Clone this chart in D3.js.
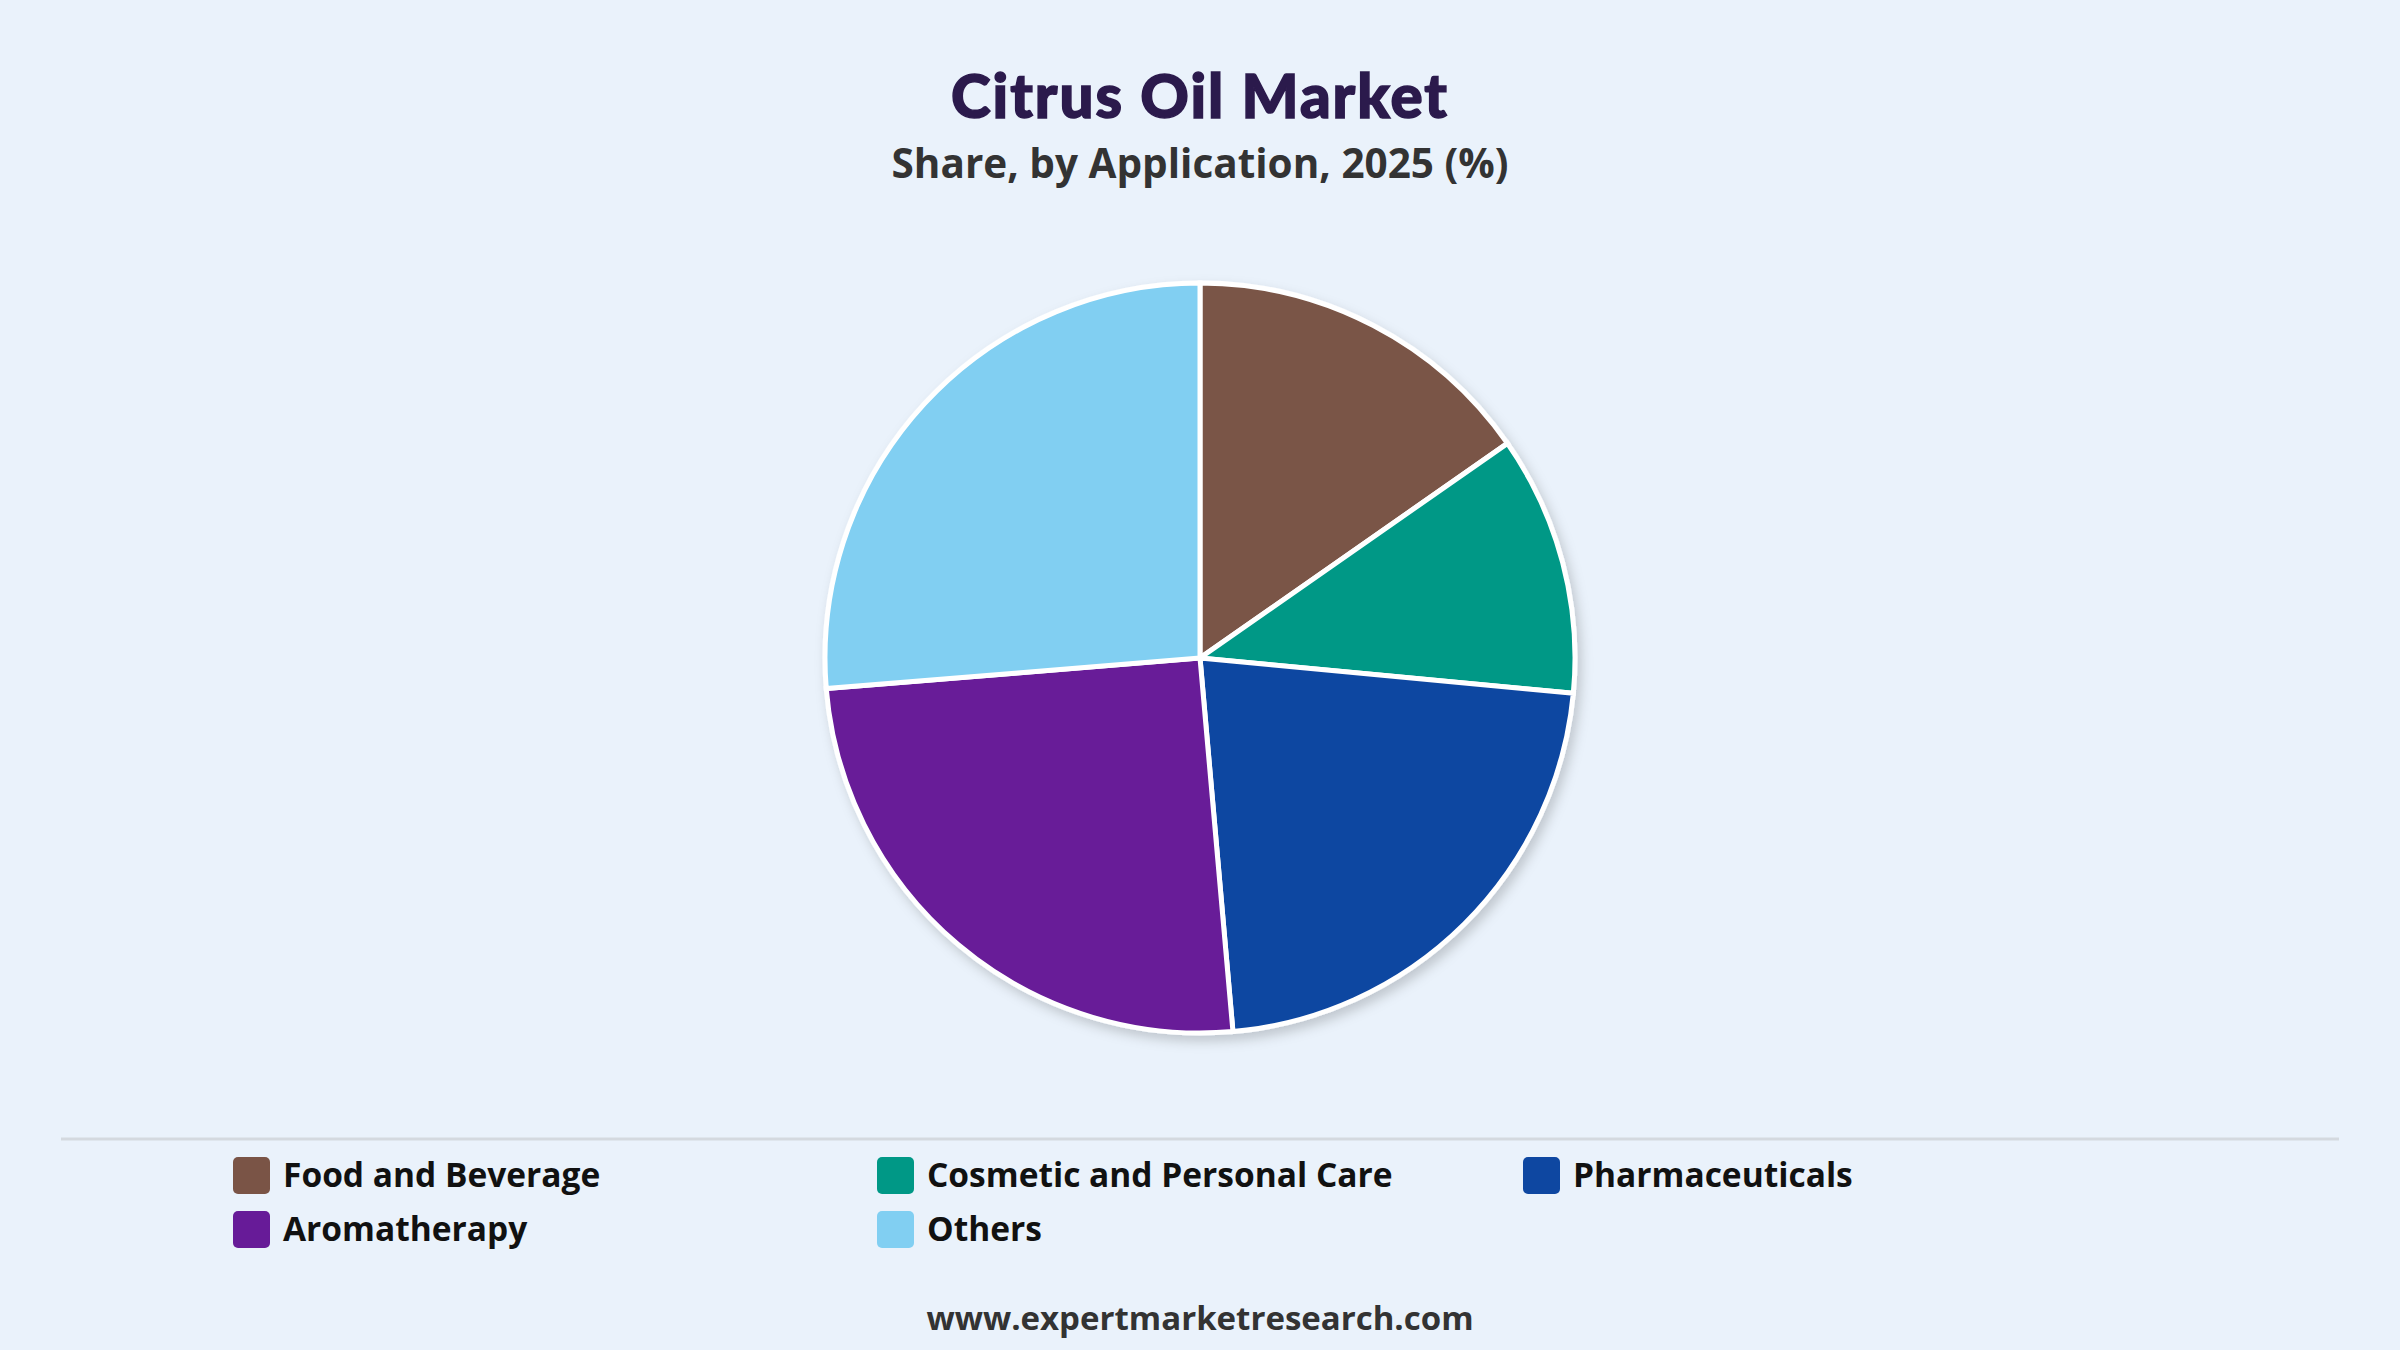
<!DOCTYPE html><html><head><meta charset="utf-8">
<script src="https://cdn.jsdelivr.net/npm/d3@7"></script>
<style>body{margin:0;background:#eaf2fb;}svg{display:block}</style></head><body>
<svg id="c" width="2400" height="1350"></svg>
<script>
const categories=["Food and Beverage","Cosmetic and Personal Care","Pharmaceuticals","Aromatherapy","Others"];
const values=[15.3,11.2,22.1,25.1,26.3];
const colors=["#7a5446","#009886","#0e47a1","#671b98","#81cff2"];
const svg=d3.select("#c");
svg.append("rect").attr("width",2400).attr("height",1350).attr("fill","#eaf2fb");
const defs=svg.append("defs");
const f=defs.append("filter").attr("id","sh").attr("x","-20%").attr("y","-20%").attr("width","140%").attr("height","140%");
f.append("feDropShadow").attr("dx",4).attr("dy",6).attr("stdDeviation",6).attr("flood-color","#000").attr("flood-opacity",0.18);
svg.append("text").attr("x",1200).attr("y",118).attr("text-anchor","middle").attr("font-family","Lato").attr("font-weight",900).attr("font-size",60).attr("letter-spacing",2).attr("stroke","#2b1a4c").attr("stroke-width",1.5).attr("fill","#2b1a4c").text("Citrus Oil Market");
svg.append("text").attr("x",1200).attr("y",178).attr("text-anchor","middle").attr("font-family","Open Sans").attr("font-weight",700).attr("font-size",40.5).attr("fill","#333").text("Share, by Application, 2025 (%)");
const pie=d3.pie().sort(null)(values);
const arc=d3.arc().innerRadius(0).outerRadius(375);
const g=svg.append("g").attr("transform","translate(1200,658)").attr("filter","url(#sh)");
g.selectAll("path").data(pie).join("path").attr("d",arc).attr("fill",(d,i)=>colors[i]).attr("stroke","#fff").attr("stroke-width",5);
svg.append("line").attr("x1",61).attr("x2",2339).attr("y1",1139).attr("y2",1139).attr("stroke","#d4d9df").attr("stroke-width",3);
const pos=[[233,1175],[877,1175],[1523,1175],[233,1229],[877,1229]];
categories.forEach((c,i)=>{
 const [x,y]=pos[i];
 svg.append("rect").attr("x",x).attr("y",y-18).attr("width",37).attr("height",37).attr("rx",5).attr("fill",colors[i]);
 svg.append("text").attr("x",x+50).attr("y",y+12).attr("font-family","Open Sans").attr("font-weight",700).attr("font-size",33.5).attr("fill","#111").text(c);
});
svg.append("text").attr("x",1200).attr("y",1330).attr("text-anchor","middle").attr("font-family","Open Sans").attr("font-weight",700).attr("font-size",33).attr("fill","#333").text("www.expertmarketresearch.com");
</script></body></html>
